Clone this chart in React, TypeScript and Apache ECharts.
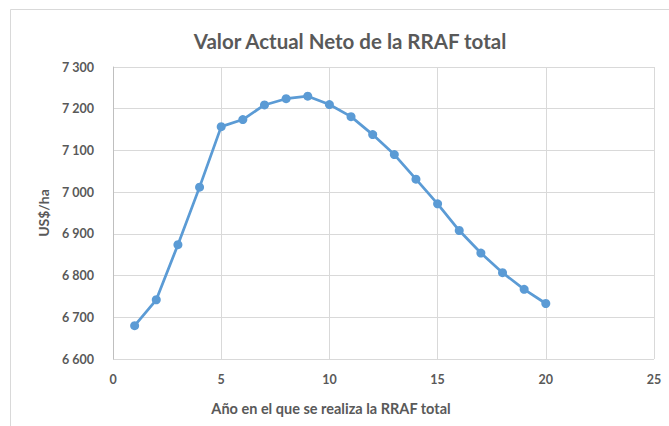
import React, { useEffect, useRef } from "react";
import * as echarts from "echarts";

const years = [1, 2, 3, 4, 5, 6, 7, 8, 9, 10, 11, 12, 13, 14, 15, 16, 17, 18, 19, 20];
const van = [6680, 6742, 6874, 7012, 7157, 7174, 7209, 7224, 7230, 7210, 7181, 7138, 7090, 7031, 6972, 6908, 6854, 6807, 6767, 6733];
const titleText = "Valor Actual Neto de la RRAF total";
const xName = "Año en el que se realiza la RRAF total";
const yName = "US$/ha";

const FONT = "Lato";
const GREY = "#595959";

export default function App() {
  const ref = useRef<HTMLDivElement>(null);
  useEffect(() => {
    const chart = echarts.init(ref.current!, undefined, { renderer: "svg" });
    chart.setOption({
      animation: false,
      backgroundColor: "#ffffff",
      graphic: [
        {
          type: "rect",
          shape: { x: 10.5, y: 9.5, width: 700, height: 500 },
          style: { fill: "none", stroke: "#d9d9d9", lineWidth: 1 },
          z: -1,
        },
        {
          type: "text",
          x: 331,
          y: 408,
          style: {
            text: xName,
            font: `bold 14.5px ${FONT}`,
            fill: GREY,
            align: "center",
            verticalAlign: "middle",
          },
        },
      ],
      title: {
        text: titleText,
        left: 345,
        top: 25,
        textAlign: "center",
        textStyle: { fontFamily: FONT, fontWeight: "bold", fontSize: 20.5, color: GREY },
      },
      grid: { left: 113, right: 15, top: 67, bottom: 67 },
      xAxis: {
        type: "value",
        min: 0,
        max: 25,
        interval: 5,
        axisLine: { show: false },
        axisTick: { show: false },
        splitLine: { show: true, lineStyle: { color: "#d9d9d9", width: 1 } },
        axisLabel: {
          margin: 14,
          fontFamily: FONT,
          fontWeight: "bold",
          fontSize: 12.5,
          color: GREY,
        },
      },
      yAxis: {
        type: "value",
        min: 6600,
        max: 7300,
        interval: 100,
        name: yName,
        nameLocation: "middle",
        nameGap: 63,
        nameTextStyle: { fontFamily: FONT, fontWeight: "bold", fontSize: 14, color: GREY },
        axisLine: { show: true, lineStyle: { color: "#bfbfbf" } },
        axisTick: { show: false },
        splitLine: { show: true, lineStyle: { color: "#d9d9d9", width: 1 } },
        axisLabel: {
          margin: 19,
          fontFamily: FONT,
          fontWeight: "bold",
          fontSize: 12.5,
          color: GREY,
          formatter: (v: number) => {
            const s = String(v);
            return s.slice(0, s.length - 3) + " " + s.slice(s.length - 3);
          },
        },
      },
      series: [
        {
          type: "line",
          data: years.map((y, i) => [y, van[i]]),
          symbol: "circle",
          symbolSize: 9,
          lineStyle: { color: "#5B9BD5", width: 2.75 },
          itemStyle: { color: "#5B9BD5" },
        },
      ],
    });
    return () => chart.dispose();
  }, []);
  return (
    <div
      ref={ref}
      style={{ position: "fixed", left: 0, top: 0, width: 669, height: 426 }}
    />
  );
}
